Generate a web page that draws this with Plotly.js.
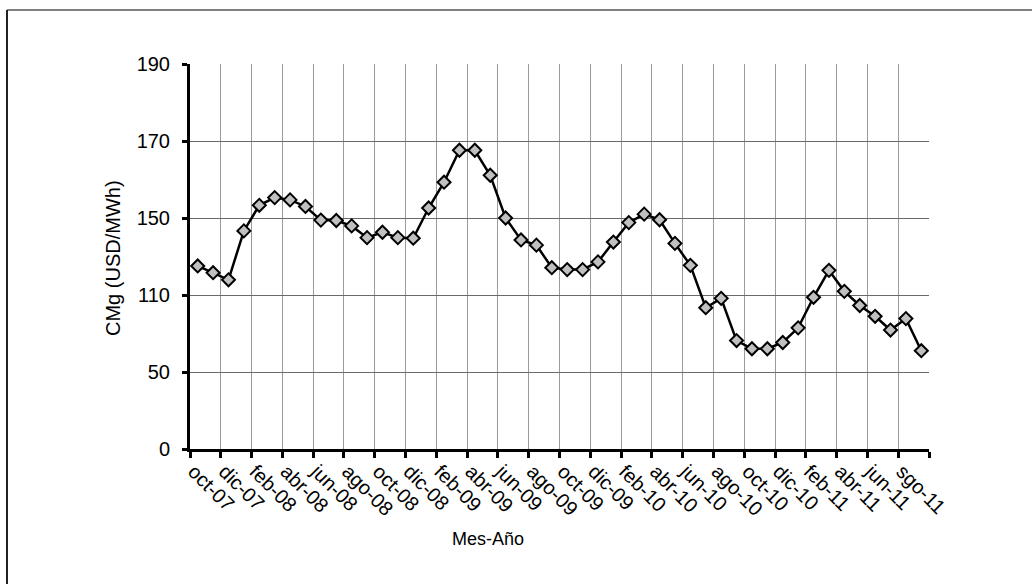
<!DOCTYPE html>
<html><head><meta charset="utf-8">
<script src="https://cdn.plot.ly/plotly-3.0.1.min.js"></script>
<style>html,body{margin:0;padding:0;background:#fff}#chart{width:1032px;height:584px}</style>
</head><body><div id="chart"></div>
<script>
const months = ['oct-07','nov-07','dic-07','ene-08','feb-08','mar-08','abr-08','may-08','jun-08','jul-08','ago-08','sep-08',
  'oct-08','nov-08','dic-08','ene-09','feb-09','mar-09','abr-09','may-09','jun-09','jul-09','ago-09','sep-09',
  'oct-09','nov-09','dic-09','ene-10','feb-10','mar-10','abr-10','may-10','jun-10','jul-10','ago-10','sep-10',
  'oct-10','nov-10','dic-10','ene-11','feb-11','mar-11','abr-11','may-11','jun-11','jul-11','ago-11','sep-11'];
const cmg = [125.1,121.6,117.9,143.3,153.3,155.3,154.7,153.0,148.9,148.7,145.9,139.8,
  142.6,139.8,139.5,152.6,159.3,167.6,167.6,161.1,150.0,138.6,135.9,124.2,
  123.2,123.2,127.2,137.5,147.6,151.0,149.1,136.8,125.4,100.1,107.4,74.5,
  68.1,68.1,73.0,84.4,108.2,122.8,111.9,101.8,93.4,82.7,91.6,66.6];
const xTickLabels = ['oct-07','dic-07','feb-08','abr-08','jun-08','ago-08','oct-08','dic-08','feb-09','abr-09','jun-09','ago-09',
  'oct-09','dic-09','feb-10','abr-10','jun-10','ago-10','oct-10','dic-10','feb-11','abr-11','jun-11','sgo-11'];
const yTickLabels = [0, 50, 110, 150, 170, 190];

// The reference axis places its (unevenly valued) labels at equal spacing:
// map each value onto that axis piecewise between neighbouring labels.
function toAxis(v) {
  for (let i = 0; i < yTickLabels.length - 1; i++) {
    const a = yTickLabels[i], b = yTickLabels[i + 1];
    if (v <= b || i === yTickLabels.length - 2) return i + (v - a) / (b - a);
  }
}
const xIdx = months.map((m, i) => i);
const xTickVals = xTickLabels.map((t, i) => 2 * i - 0.25);
const yTickVals = yTickLabels.map((t, i) => i);
const boundaries = [];
for (let b = -0.5; b <= months.length - 0.5; b += 2) boundaries.push(b);

const font = 'Liberation Sans, Arial, sans-serif';
const trace = {
  x: xIdx, y: cmg.map(toAxis), text: months, customdata: cmg,
  type: 'scatter', mode: 'lines+markers',
  line: {color: '#000', width: 2.5},
  marker: {symbol: 'diamond', size: 10, color: '#c0c0c0', line: {color: '#000', width: 2}},
  hovertemplate: '%{text}: %{customdata}<extra></extra>'
};
const layout = {
  width: 1032, height: 584, autosize: false,
  margin: {l: 190, r: 103, t: 64, b: 135},
  paper_bgcolor: '#fff', plot_bgcolor: '#fff',
  showlegend: false,
  font: {family: font, color: '#000', size: 20},
  xaxis: {
    range: [-0.5, months.length - 0.5], tickmode: 'array', tickvals: xTickVals, ticktext: xTickLabels,
    tickangle: 45, ticks: '', showgrid: false, zeroline: false,
    showline: true, linecolor: '#000', linewidth: 3,
    tickfont: {family: font, size: 20, color: '#000'},
    minor: {tickmode: 'array', tickvals: boundaries, ticks: 'outside', ticklen: 6, tickwidth: 3, tickcolor: '#000',
      showgrid: true, gridcolor: '#9a9a9a', gridwidth: 1}
  },
  yaxis: {
    range: [0, yTickLabels.length - 1], tickmode: 'array', tickvals: yTickVals, ticktext: yTickLabels.map(String),
    ticks: 'outside', ticklen: 5, tickwidth: 3, tickcolor: '#000', ticklabelstandoff: 8,
    showline: true, linecolor: '#000', linewidth: 3, zeroline: false,
    showgrid: true, gridcolor: '#6a6a6a', gridwidth: 1,
    tickfont: {family: font, size: 20, color: '#000'}
  },
  annotations: [
    {text: 'Mes-Año', xref: 'paper', yref: 'paper', x: (488 - 190) / 739, y: (449 - 539) / 385,
      xanchor: 'center', yanchor: 'middle', showarrow: false, font: {family: font, size: 18, color: '#000'}},
    {text: 'CMg (USD/MWh)', xref: 'paper', yref: 'paper', x: (113 - 190) / 739, y: (449 - 258) / 385, textangle: -90,
      xanchor: 'center', yanchor: 'middle', showarrow: false, font: {family: font, size: 20, color: '#000'}}
  ],
  shapes: [
    {type: 'line', xref: 'paper', yref: 'paper', x0: (7 - 190) / 739, x1: (1040 - 190) / 739,
      y0: (449 - 10) / 385, y1: (449 - 10) / 385, line: {color: '#808080', width: 2}},
    {type: 'line', xref: 'paper', yref: 'paper', x0: (7 - 190) / 739, x1: (7 - 190) / 739,
      y0: (449 - 10) / 385, y1: (449 - 600) / 385, line: {color: '#222', width: 2}}
  ]
};
Plotly.newPlot('chart', [trace], layout, {displayModeBar: false, staticPlot: true});
</script></body></html>
